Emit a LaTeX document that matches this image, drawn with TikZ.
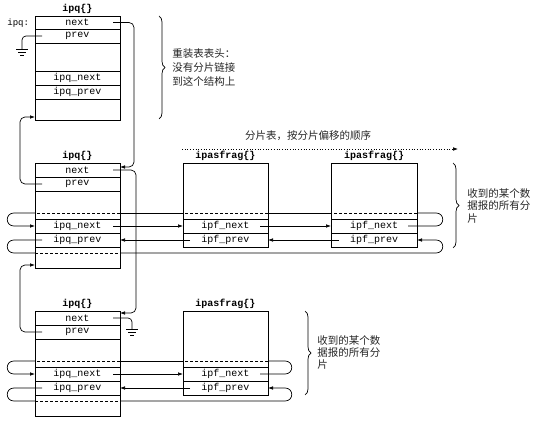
\documentclass[tikz,border=0pt]{standalone}
\usepackage{fontspec}
\setmonofont{Liberation Mono}
\newfontfamily\cjk{Noto Sans CJK SC}
\usetikzlibrary{arrows.meta,decorations.pathreplacing}
\begin{document}
\begin{tikzpicture}[x=1pt,y=-1pt,
  line width=0.7pt,
  every node/.style={inner sep=0pt},
  fld/.style={font=\fontsize{10}{12}\selectfont\ttfamily},
  ttl/.style={font=\fontsize{10}{12}\selectfont\ttfamily\bfseries},
  note/.style={font=\fontsize{10.5}{14}\selectfont\cjk, text=black!85, align=left, anchor=west},
  ptr/.style={-{Latex[length=5pt,width=3.6pt]}},
  dsh/.style={dash pattern=on 3pt off 2pt},
  brc/.style={decorate, decoration={brace, amplitude=6pt}},
  gnd/.style={line width=0.6pt}
]
\fill[white] (0,0) rectangle (548,427);
\useasboundingbox (0,0) rectangle (548,427);

% ---------- box 1 : ipq head ----------
\draw (35,16) rectangle (120,120);
\foreach \y in {29,43,71,85,99} \draw (35,\y) -- (120,\y);
\node[ttl] (t1) at (77.5,9) {ipq\{\}};
\node[fld] (q1n) at (77.5,22.5) {next};
\node[fld] (q1p) at (77.5,36) {prev};
\node[fld] (q1in) at (77.5,78) {ipq\_next};
\node[fld] (q1ip) at (77.5,92) {ipq\_prev};
\node[fld, font=\fontsize{9}{11}\selectfont\ttfamily, anchor=west] (lbl) at (7,23) {ipq:};

% ---------- box 2 : ipq ----------
\draw (35,163) rectangle (120,268);
\foreach \y in {177,191,219,233,247} \draw (35,\y) -- (120,\y);
\node[ttl] (t2) at (77.5,156) {ipq\{\}};
\node[fld] (q2n) at (77.5,170) {next};
\node[fld] (q2p) at (77.5,184) {prev};
\node[fld] (q2in) at (77.5,226) {ipq\_next};
\node[fld] (q2ip) at (77.5,240) {ipq\_prev};

% ---------- box 3 : ipq ----------
\draw (35,311) rectangle (120,416);
\foreach \y in {325,339,367,381,395} \draw (35,\y) -- (120,\y);
\node[ttl] (t3) at (77.5,304) {ipq\{\}};
\node[fld] (q3n) at (77.5,318) {next};
\node[fld] (q3p) at (77.5,332) {prev};
\node[fld] (q3in) at (77.5,374) {ipq\_next};
\node[fld] (q3ip) at (77.5,388) {ipq\_prev};

% ---------- fragments ----------
\draw (183,163) rectangle (268,247);
\foreach \y in {219,233} \draw (183,\y) -- (268,\y);
\node[ttl] (tf1) at (225.5,156) {ipasfrag\{\}};
\node[fld] (f1n) at (225.5,226) {ipf\_next};
\node[fld] (f1p) at (225.5,240) {ipf\_prev};

\draw (331,163) rectangle (417,247);
\foreach \y in {219,233} \draw (331,\y) -- (417,\y);
\node[ttl] (tf2) at (374,156) {ipasfrag\{\}};
\node[fld] (f2n) at (374,226) {ipf\_next};
\node[fld] (f2p) at (374,240) {ipf\_prev};

\draw (183,311) rectangle (268,395);
\foreach \y in {367,381} \draw (183,\y) -- (268,\y);
\node[ttl] (tf3) at (225.5,304) {ipasfrag\{\}};
\node[fld] (f3n) at (225.5,374) {ipf\_next};
\node[fld] (f3p) at (225.5,388) {ipf\_prev};

% ---------- middle row links ----------
\draw (408,226) -- (436,226) .. controls (445,226) and (445,213) .. (436,213) -- (417,213);
\draw[dsh] (417,213) -- (331,213);
\draw (331,213) -- (268,213);
\draw[dsh] (268,213) -- (183,213);
\draw (183,213) -- (120,213);
\draw[dsh] (120,213) -- (35,213);
\draw[ptr] (35,213) -- (14,213) .. controls (5,213) and (5,226) .. (14,226) -- (35,226);

\draw (42,240) -- (14,240) .. controls (5,240) and (5,253) .. (14,253) -- (35,253);
\draw[dsh] (35,253) -- (120,253);
\draw[ptr] (120,253) -- (436,253) .. controls (445,253) and (445,240) .. (436,240) -- (417,240);

\draw[ptr] (113,226) -- (183,226);
\draw[ptr] (260,226) -- (331,226);
\draw[ptr] (339,240) -- (268,240);
\draw[ptr] (190,240) -- (120,240);

% ---------- bottom row links ----------
\draw (260,374) -- (285,374) .. controls (294,374) and (294,361) .. (285,361) -- (268,361);
\draw[dsh] (268,361) -- (183,361);
\draw (183,361) -- (120,361);
\draw[dsh] (120,361) -- (35,361);
\draw[ptr] (35,361) -- (14,361) .. controls (5,361) and (5,374) .. (14,374) -- (35,374);

\draw (42,388) -- (14,388) .. controls (5,388) and (5,401) .. (14,401) -- (35,401);
\draw[dsh] (35,401) -- (120,401);
\draw[ptr] (120,401) -- (285,401) .. controls (294,401) and (294,388) .. (285,388) -- (268,388);

\draw[ptr] (113,374) -- (183,374);
\draw[ptr] (190,388) -- (120,388);

% ---------- vertical chain links ----------
\draw[ptr, rounded corners=5pt] (113,22.5) -- (134,22.5) -- (134,167) -- (120,167);
\draw[ptr, rounded corners=5pt] (113,170) -- (136,170) -- (136,313) -- (120,313);
\draw[ptr, rounded corners=5pt] (42,184) -- (20,184) -- (20,117) -- (35,117);
\draw[ptr, rounded corners=5pt] (42,332) -- (20,332) -- (20,265) -- (35,265);

% ---------- grounds ----------
\draw[rounded corners=4pt] (42,36) -- (22,36) -- (22,49.5);
\draw[gnd] (16,49.5) -- (28,49.5) (18,52.5) -- (26,52.5) (20,55.5) -- (24,55.5);
\draw[rounded corners=4pt] (113,318) -- (132,318) -- (132,329.5);
\draw[gnd] (126,329.5) -- (138,329.5) (128,332.5) -- (136,332.5) (130,335.5) -- (134,335.5);

% ---------- braces and notes ----------
\draw[brc] (159,16) -- (159,119);
\node[note] (n1) at (172,68) {重装表表头：\\没有分片链接\\到这个结构上};

\draw[brc] (453,163) -- (453,248);
\node[note, font=\fontsize{10.5}{12.5}\selectfont\cjk] (n2) at (467,206) {收到的某个数\\据报的所有分\\片};

\draw[brc] (305,311) -- (305,395);
\node[note, font=\fontsize{10.5}{12}\selectfont\cjk] (n3) at (317,352) {收到的某个数\\据报的所有分\\片};

\node[note, anchor=center] (order) at (308,136) {分片表，按分片偏移的顺序};
\draw[ptr, line width=0.6pt, dash pattern=on 0.7pt off 2pt] (182,149) -- (458,149);
\end{tikzpicture}
\end{document}
